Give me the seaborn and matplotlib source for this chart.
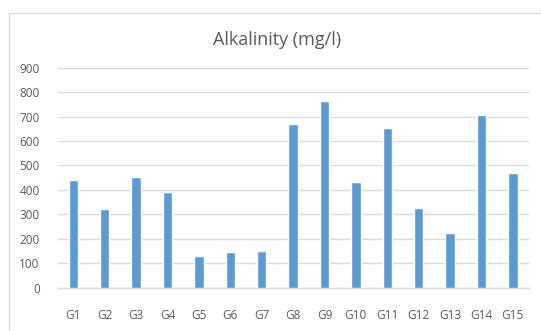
import matplotlib
matplotlib.use("Agg")
import matplotlib.pyplot as plt
import seaborn as sns
import pandas as pd
from matplotlib.patches import Rectangle

categories = ["G1", "G2", "G3", "G4", "G5", "G6", "G7", "G8", "G9", "G10",
              "G11", "G12", "G13", "G14", "G15"]
alkalinity = [440, 320, 453, 390, 130, 147, 151, 668, 765, 431,
              655, 325, 225, 706, 468]
y_ticks = [0, 100, 200, 300, 400, 500, 600, 700, 800, 900]
title = "Alkalinity (mg/l)"

df = pd.DataFrame({"site": categories, "value": alkalinity})

sns.set_theme(style="white")
plt.rcParams["font.family"] = ["Open Sans", "DejaVu Sans"]

W, H = 541, 331
fig = plt.figure(figsize=(W / 100, H / 100), dpi=100)
fig.patch.set_facecolor("white")
fig.patches.append(Rectangle((8.5 / W, -0.1), 1.2, 1 - 12.5 / H + 0.1,
                             transform=fig.transFigure, fill=False,
                             edgecolor="#D9D9D9", linewidth=1.0))

left, right = 57.7, 528.5
bottom, top = 287.7, 67.7
ax = fig.add_axes([left / W, 1 - bottom / H, (right - left) / W, (bottom - top) / H])

sns.barplot(data=df, x="site", y="value", color="#5B9BD5", width=0.3,
            saturation=1, ax=ax, zorder=3)

ax.set_ylim(0, 900)
ax.set_xlim(-0.5, len(categories) - 0.5)
ax.set_yticks(y_ticks)
ax.set_yticklabels([str(t) for t in y_ticks])
ax.grid(axis="y", color="#D9D9D9", linewidth=1.0, zorder=0)
ax.set_axisbelow(True)
for s in ["top", "right", "left"]:
    ax.spines[s].set_visible(False)
ax.spines["bottom"].set_color("#D9D9D9")
ax.spines["bottom"].set_linewidth(1.0)
ax.tick_params(axis="both", length=0, labelsize=8.5, labelcolor="#595959")
ax.tick_params(axis="y", pad=13)
ax.tick_params(axis="x", pad=15)
ax.set_xlabel("")
ax.set_ylabel("")

fig.text(277 / W, 1 - 40 / H, title, ha="center", va="center",
         fontsize=13, color="#595959")

fig.savefig("out.png", dpi=100, facecolor="white")
